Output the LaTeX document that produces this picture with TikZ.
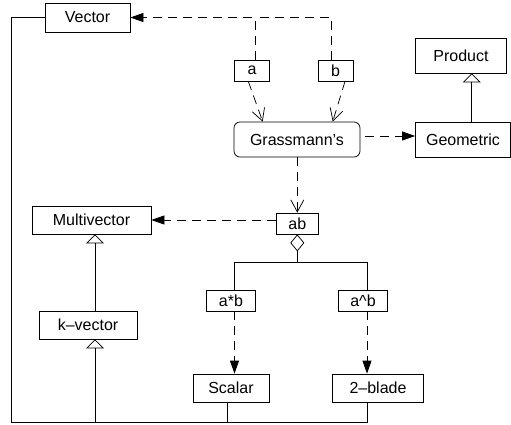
\documentclass[tikz,border=0pt]{standalone}
\usepackage{fontspec}
\setmainfont{Liberation Sans}
\usepackage{tikz}
\usetikzlibrary{arrows.meta,shapes}

\begin{document}
\begin{tikzpicture}[x=1pt,y=-1pt,line width=0.75pt,
                    font=\fontsize{16}{19}\selectfont,
                    box/.style={draw,rectangle,inner sep=0pt,minimum height=28pt},
                    dep/.style={dash pattern=on 9pt off 6pt,-{Triangle[length=13pt,width=9pt]}},
                    use/.style={dash pattern=on 9pt off 6pt,-{Straight Barb[length=12pt,width=13pt]}},
                    isa/.style={-{Triangle[open,length=9pt,width=18pt]}}]
  \useasboundingbox (0,0) rectangle (511,424);

  \node[box,minimum width=85pt,minimum height=29pt] (Vector)      at (87.5,17.5)  {Vector};
  \node[box,minimum width=35pt,minimum height=21pt] (a)           at (252,70.5)   {a};
  \node[box,minimum width=35pt,minimum height=21pt] (b)           at (335.5,70.5) {b};
  \node[box,rounded corners=6pt,minimum width=126pt,minimum height=35pt] (Grassmann) at (297,139.5) {Grassmann's};
  \node[box,minimum width=95pt,minimum height=35pt] (Geometric)   at (463,139.5)  {Geometric};
  \node[box,minimum width=91pt,minimum height=35pt] (Product)     at (461,55.5)   {Product};
  \node[box,minimum width=119pt]                    (Multivector) at (91.5,220)   {Multivector};
  \node[box,minimum width=41.5pt,minimum height=21pt] (ab)        at (297.3,223.5) {ab};
  \node[box,minimum width=49pt,minimum height=21pt] (inner)       at (231,300.5)  {a*b};
  \node[box,minimum width=49pt,minimum height=21pt] (outer)       at (363,300.5)  {a\textasciicircum b};
  \node[box,minimum width=98pt]                     (kvector)     at (88,325)     {k\textendash vector};
  \node[box,minimum width=76pt]                     (Scalar)      at (231,388)    {Scalar};
  \node[box,minimum width=91pt]                     (blade)       at (378,388)    {2\textendash blade};

  \coordinate (ka)   at (255,17.5);
  \coordinate (kb)   at (331.7,17.5);
  \coordinate (vl)   at (11,17.5);
  \coordinate (bl)   at (11,422);
  \coordinate (br)   at (367,422);
  \coordinate (fork) at (297.3,262);
  \coordinate (fl)   at (234.5,262);
  \coordinate (fr)   at (367,262);

  % a, b and the product
  \draw[dep] (a.north -| ka) -- (ka) -- (Vector.east);
  \draw[dash pattern=on 9pt off 6pt] (b.north -| kb) -- (kb) -- (ka);
  \draw[use] (a.south -| 248.3,0) -- (Grassmann.north -| 262.7,0);
  \draw[use] (b.south -| 345,0) -- (Grassmann.north -| 332.7,0);
  \draw[use] (Grassmann.south -| ab.north) -- (ab.north);
  \draw[dep,shorten <=5pt] (Grassmann.east |- 0,136) -- (Geometric.west |- 0,136);
  \draw[isa] (Geometric.north -| 471.7,0) -- (Product.south -| 471.7,0);
  \draw[dep] (ab.west |- Multivector.east) -- (Multivector.east);

  % parts of ab
  \draw[{Diamond[open,length=17pt,width=14pt]}-] (ab.south) -- (fork);
  \draw (fl) -- (fr);
  \draw (fl) -- (inner.north -| fl);
  \draw (fr) -- (outer.north -| fr);
  \draw[dep] (inner.south -| fl) -- (Scalar.north -| fl);
  \draw[dep] (outer.south -| fr) -- (blade.north -| fr);

  % k-vectors
  \draw[isa] (kvector.north -| 95,0) -- (Multivector.south -| 95,0);
  \draw[isa] (bl -| 95,0) -- (kvector.south -| 95,0);
  \draw (Vector.west) -- (vl) -- (bl) -- (br) -- (blade.south -| br);
  \draw (Scalar.south -| 227,0) -- (bl -| 227,0);
\end{tikzpicture}
\end{document}
